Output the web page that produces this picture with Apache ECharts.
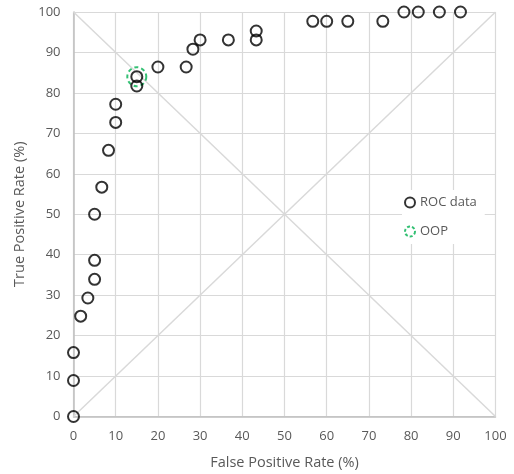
<!DOCTYPE html>
<html>
<head>
<meta charset="utf-8">
<script src="https://cdn.jsdelivr.net/npm/echarts@6/dist/echarts.min.js"></script>
<style>html,body{margin:0;padding:0;background:#fff}#c{width:514px;height:474px}</style>
</head>
<body>
<div id="c"></div>
<script>
const rocFPR = [0, 0, 0, 1.7, 3.4, 5, 5, 5, 6.7, 8.3, 10, 10, 15, 15, 20, 26.7, 28.3, 30, 36.7, 43.3, 43.3, 56.7, 60, 65, 73.3, 78.3, 81.7, 86.7, 91.7];
const rocTPR = [0, 8.9, 15.8, 24.8, 29.3, 33.9, 38.6, 50, 56.7, 65.8, 72.7, 77.2, 81.7, 84, 86.4, 86.4, 90.8, 93.1, 93.1, 93.1, 95.3, 97.7, 97.7, 97.7, 97.7, 100, 100, 100, 100];
const oopPoint = [15, 84];
const diagUp = [[0, 0], [100, 100]];
const diagDown = [[0, 100], [100, 0]];
const xTicks = [0,10,20,30,40,50,60,70,80,90,100];
const yTicks = [0,10,20,30,40,50,60,70,80,90,100];

const font = "'Open Sans', 'Liberation Sans', sans-serif";
const chart = echarts.init(document.getElementById('c'), null, {renderer: 'canvas'});
chart.setOption({
  animation: false,
  backgroundColor: '#fff',
  grid: {left: 73.5, right: 18.5, top: 12, bottom: 57.5, containLabel: false, outerBoundsMode: 'none'},
  xAxis: {
    type: 'value', min: xTicks[0], max: xTicks[xTicks.length-1], interval: 10,
    name: 'False Positive Rate (%)', nameLocation: 'middle', nameGap: 39,
    nameTextStyle: {color: '#595959', fontSize: 14.5, fontFamily: font},
    axisLine: {show: true, lineStyle: {color: '#bfbfbf', width: 1.5}},
    axisTick: {show: false},
    axisLabel: {color: '#595959', fontSize: 13, fontFamily: font, margin: 13},
    splitLine: {show: true, lineStyle: {color: '#d9d9d9', width: 1.2}}
  },
  yAxis: {
    type: 'value', min: yTicks[0], max: yTicks[yTicks.length-1], interval: 10,
    name: 'True Positive Rate (%)', nameLocation: 'middle', nameGap: 46,
    nameTextStyle: {color: '#595959', fontSize: 14.5, fontFamily: font},
    axisLine: {show: true, lineStyle: {color: '#bfbfbf', width: 1.5}},
    axisTick: {show: false},
    axisLabel: {color: '#595959', fontSize: 13, fontFamily: font, margin: 13},
    splitLine: {show: true, lineStyle: {color: '#d9d9d9', width: 1.2}}
  },
  legend: {
    orient: 'vertical', left: 402, top: 190,
    backgroundColor: '#fff', padding: [6, 8, 6, 2], itemGap: 16,
    itemWidth: 10, itemHeight: 10,
    textStyle: {color: '#595959', fontSize: 13, fontFamily: font},
    data: [
      {name: 'ROC data'},
      {name: 'OOP', itemStyle: {borderType: [3, 2], borderWidth: 2, borderColor: '#00b050'}}
    ]
  },
  series: [
    {type: 'line', data: diagUp, symbol: 'none', silent: true, lineStyle: {color: '#d9d9d9', width: 1.5}, z: 1},
    {type: 'line', data: diagDown, symbol: 'none', silent: true, lineStyle: {color: '#d9d9d9', width: 1.5}, z: 1},
    {
      name: 'ROC data', type: 'scatter', symbol: 'circle', symbolSize: 11,
      data: rocFPR.map((x, i) => [x, rocTPR[i]]),
      itemStyle: {color: 'rgba(255,255,255,0)', borderColor: '#000', borderWidth: 2}, z: 3
    },
    {
      name: 'OOP', type: 'scatter', symbol: 'circle', symbolSize: 19,
      data: [oopPoint],
      itemStyle: {color: 'rgba(255,255,255,0)', borderColor: '#00b050', borderWidth: 2, borderType: [4, 3]}, z: 2
    }
  ]
});
</script>
</body>
</html>
